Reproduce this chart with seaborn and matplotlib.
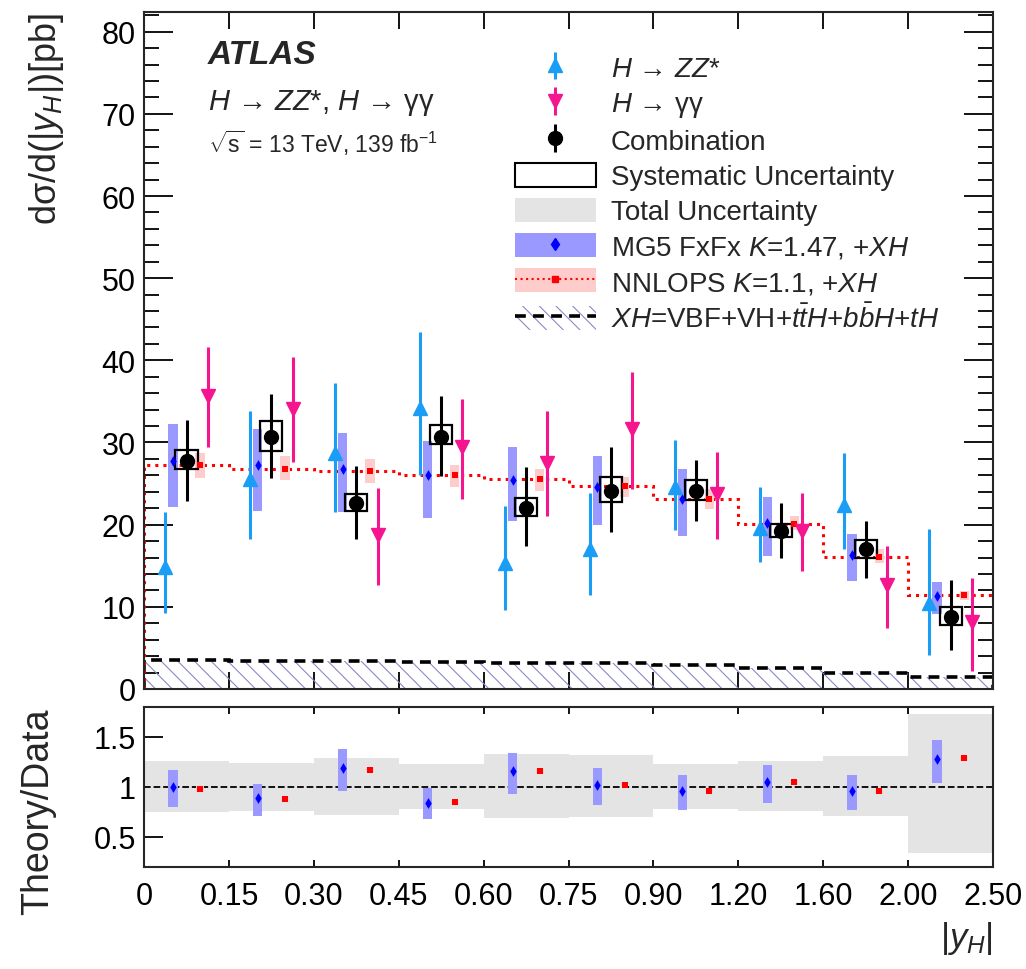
import numpy as np
import pandas as pd
import matplotlib
matplotlib.use("Agg")
import matplotlib.pyplot as plt
import seaborn as sns
from matplotlib.patches import Patch
from matplotlib.lines import Line2D
from matplotlib.ticker import MultipleLocator, FixedLocator

# |y_H| bin edges (drawn with equal visual width)
edge_labels = ["0", "0.15", "0.30", "0.45", "0.60", "0.75", "0.90", "1.20", "1.60", "2.00", "2.50"]

# H -> ZZ*
zz_val = [14.9, 25.5, 28.7, 34.2, 15.3, 17.0, 24.6, 19.6, 22.4, 10.5]
zz_hi = [21.6, 33.8, 37.2, 43.4, 22.3, 23.9, 30.3, 24.6, 28.7, 19.5]
zz_lo = [9.2, 18.3, 21.5, 26.1, 9.6, 11.4, 19.4, 15.4, 17.0, 4.1]

# H -> yy
yy_val = [35.6, 34.1, 18.8, 29.4, 27.5, 31.6, 23.7, 19.2, 12.6, 8.1]
yy_hi = [41.6, 40.4, 24.5, 35.3, 33.8, 38.6, 28.8, 23.8, 17.4, 13.5]
yy_lo = [29.5, 27.6, 12.7, 23.1, 21.1, 24.3, 18.3, 14.3, 7.4, 2.2]

# combination: total and systematic
comb_val = [27.7, 30.7, 22.6, 30.7, 22.0, 24.1, 24.1, 19.2, 17.0, 8.8]
comb_hi = [32.7, 35.9, 27.1, 35.6, 27.0, 29.5, 27.9, 22.6, 20.5, 13.3]
comb_lo = [22.9, 25.7, 18.3, 25.9, 17.4, 19.1, 20.4, 15.9, 13.5, 4.7]
sys_hi = [29.1, 32.6, 23.7, 32.1, 23.3, 25.8, 25.4, 20.1, 18.1, 10.0]
sys_lo = [26.8, 29.0, 21.7, 29.8, 21.1, 22.7, 23.0, 18.5, 15.9, 7.8]

# predictions
mg5_val = [27.7, 27.2, 26.8, 26.0, 25.4, 24.6, 23.1, 20.2, 16.3, 11.3]
mg5_hi = [32.2, 31.6, 31.2, 30.2, 29.5, 28.4, 26.8, 23.4, 18.9, 13.0]
mg5_lo = [22.2, 21.7, 21.6, 20.8, 20.5, 19.9, 18.6, 16.2, 13.1, 9.1]
nnlops_val = [27.2, 26.8, 26.5, 26.0, 25.5, 24.7, 23.1, 20.1, 16.1, 11.4]
nnlops_hi = [28.7, 28.3, 28.0, 27.3, 26.8, 25.8, 24.3, 21.1, 17.0, 11.9]
nnlops_lo = [25.7, 25.4, 25.1, 24.6, 24.1, 23.4, 21.9, 19.4, 15.3, 10.8]
xh_val = [3.5, 3.45, 3.4, 3.3, 3.2, 3.2, 2.9, 2.5, 2.0, 1.4]

# ratio panel
total_ratio_hi = [1.257, 1.24, 1.29, 1.23, 1.327, 1.323, 1.23, 1.257, 1.31, 1.73]
total_ratio_lo = [0.753, 0.763, 0.723, 0.78, 0.693, 0.70, 0.78, 0.76, 0.71, 0.337]
mg5_ratio = [1.0, 0.887, 1.187, 0.843, 1.157, 1.02, 0.96, 1.05, 0.96, 1.28]
mg5_ratio_hi = [1.17, 1.03, 1.38, 0.987, 1.337, 1.187, 1.12, 1.22, 1.12, 1.473]
mg5_ratio_lo = [0.80, 0.71, 0.96, 0.68, 0.93, 0.823, 0.77, 0.843, 0.773, 1.04]
nnlops_ratio = [0.98, 0.877, 1.173, 0.847, 1.157, 1.023, 0.963, 1.05, 0.957, 1.287]
nnlops_ratio_hi = [1.01, 0.90, 1.20, 0.87, 1.18, 1.05, 0.99, 1.07, 0.98, 1.31]
nnlops_ratio_lo = [0.95, 0.85, 1.15, 0.82, 1.13, 1.00, 0.94, 1.03, 0.93, 1.26]

sns.set_theme(style="ticks")
plt.rcParams["font.family"] = ["Liberation Sans", "DejaVu Sans"]
plt.rcParams["mathtext.fontset"] = "custom"
plt.rcParams["mathtext.rm"] = "Liberation Sans"
plt.rcParams["mathtext.it"] = "Liberation Sans:italic"
plt.rcParams["mathtext.bf"] = "Liberation Sans:bold"
plt.rcParams["hatch.linewidth"] = 0.8
plt.rcParams["axes.linewidth"] = 1.5

c_zz = "#1a9ef5"
c_yy = "#f5158f"
c_mg5_band = "#9999ff"
c_nn_band = "#ffcccc"
c_grey = "#e4e4e4"
c_hatch = "#8a8ac8"

edges = np.arange(len(edge_labels))
centers = np.arange(len(comb_val)) + 0.5
df = pd.DataFrame({
    "x": centers, "mg5": mg5_val, "nnlops": nnlops_val,
    "mg5_ratio": mg5_ratio, "nnlops_ratio": nnlops_ratio,
})

fig = plt.figure(figsize=(10.26, 9.70), dpi=100)
ax = fig.add_axes([0.1404, 0.2887, 0.8275, 0.6979])
rax = fig.add_axes([0.1404, 0.1052, 0.8275, 0.1649])

# ---- main panel ----
ax.stairs(xh_val, edges, fill=True, hatch=r"\\", facecolor="none",
          edgecolor=c_hatch, linewidth=0, zorder=1)
ax.stairs(xh_val, edges, color="black", linestyle=(0, (3, 2)), linewidth=2.6, zorder=1.2)
ax.stairs(nnlops_val, edges, color="red", linestyle=":", linewidth=2.2, zorder=1.5)

bw = 0.11
ax.bar(centers - 0.16, np.subtract(mg5_hi, mg5_lo), bottom=mg5_lo, width=bw,
       color=c_mg5_band, linewidth=0, zorder=2)
ax.bar(centers + 0.16, np.subtract(nnlops_hi, nnlops_lo), bottom=nnlops_lo, width=bw,
       color=c_nn_band, linewidth=0, zorder=2)
ax.bar(centers, np.subtract(sys_hi, sys_lo), bottom=sys_lo, width=0.26,
       fill=False, edgecolor="black", linewidth=1.6, zorder=3)

sns.scatterplot(data=df.assign(x=centers - 0.16), x="x", y="mg5", marker="d",
                color="blue", s=30, linewidth=0, ax=ax, zorder=4)
sns.scatterplot(data=df.assign(x=centers + 0.16), x="x", y="nnlops", marker="s",
                color="red", s=22, linewidth=0, ax=ax, zorder=4)

zz_eb = ax.errorbar(centers - 0.25, zz_val,
                    yerr=[np.subtract(zz_val, zz_lo), np.subtract(zz_hi, zz_val)],
                    fmt="^", color=c_zz, ms=10, elinewidth=2.2, capsize=0, zorder=5)
yy_eb = ax.errorbar(centers + 0.25, yy_val,
                    yerr=[np.subtract(yy_val, yy_lo), np.subtract(yy_hi, yy_val)],
                    fmt="v", color=c_yy, ms=10, elinewidth=2.2, capsize=0, zorder=5)
comb_eb = ax.errorbar(centers, comb_val,
                      yerr=[np.subtract(comb_val, comb_lo), np.subtract(comb_hi, comb_val)],
                      fmt="o", color="black", ms=10, elinewidth=2.2, capsize=0, zorder=6)

ax.set_xlim(0, len(comb_val))
ax.set_ylim(0, 82.4)
ax.xaxis.set_major_locator(FixedLocator(edges))
ax.set_xticklabels([])
ax.yaxis.set_major_locator(MultipleLocator(10))
ax.yaxis.set_minor_locator(MultipleLocator(2))
ax.tick_params(axis="both", which="both", direction="in", top=True, right=True,
               width=1.3, labelsize=22, pad=6, colors="black")
ax.tick_params(axis="y", which="major", length=21)
ax.tick_params(axis="y", which="minor", length=11)
ax.tick_params(axis="x", which="major", length=12)
ax.set_xlabel("")
ax.set_ylabel("dσ/d(|$y_{H}$|)[pb]", loc="top", fontsize=26)
ax.yaxis.set_label_coords(-0.092, 1.0)

ax.text(0.075, 0.937, "ATLAS", transform=ax.transAxes, fontsize=24,
        fontweight="bold", fontstyle="italic", va="center")
ax.text(0.075, 0.867, "$H$ → $ZZ$*, $H$ → γγ", transform=ax.transAxes,
        fontsize=21, va="center")
ax.text(0.075, 0.808, r"$\sqrt{\rm s}$ = 13 TeV, 139 fb$^{-1}$", transform=ax.transAxes,
        fontsize=16.5, va="center")

handles = [
    zz_eb, yy_eb, comb_eb,
    Patch(facecolor="white", edgecolor="black", linewidth=1.5),
    Patch(facecolor=c_grey, edgecolor="none"),
    (Patch(facecolor=c_mg5_band, edgecolor="none"),
     Line2D([], [], marker="d", color="blue", linestyle="none", ms=6)),
    (Patch(facecolor=c_nn_band, edgecolor="none"),
     Line2D([], [], marker="s", color="red", linestyle=":", linewidth=1.5, ms=5)),
    (Patch(facecolor="none", edgecolor=c_hatch, linewidth=0, hatch=r"\\"),
     Line2D([], [], color="black", linestyle=(0, (3, 2)), linewidth=2.6)),
]
labels = [
    "$H$ → $ZZ$*",
    "$H$ → γγ",
    "Combination",
    "Systematic Uncertainty",
    "Total Uncertainty",
    "MG5 FxFx $K$=1.47, +$XH$",
    "NNLOPS $K$=1.1, +$XH$",
    r"$XH$=VBF+VH+$t\bar{t}H$+$b\bar{b}H$+$tH$",
]
ax.legend(handles, labels, loc="upper left", bbox_to_anchor=(0.437, 0.937),
          frameon=False, fontsize=20, borderpad=0, borderaxespad=0,
          handlelength=2.9, handleheight=0.95, handletextpad=0.55, labelspacing=0.28)

# ---- ratio panel ----
rax.bar(centers, np.subtract(total_ratio_hi, total_ratio_lo), bottom=total_ratio_lo,
        width=1.0, color=c_grey, linewidth=0, zorder=1)
rax.axhline(1.0, color="black", linestyle="--", linewidth=1.3, zorder=2)
rax.bar(centers - 0.16, np.subtract(mg5_ratio_hi, mg5_ratio_lo), bottom=mg5_ratio_lo,
        width=bw, color=c_mg5_band, linewidth=0, zorder=3)
rax.bar(centers + 0.16, np.subtract(nnlops_ratio_hi, nnlops_ratio_lo), bottom=nnlops_ratio_lo,
        width=0.09, color=c_nn_band, linewidth=0, zorder=3)
sns.scatterplot(data=df.assign(x=centers - 0.16), x="x", y="mg5_ratio", marker="d",
                color="blue", s=30, linewidth=0, ax=rax, zorder=4)
sns.scatterplot(data=df.assign(x=centers + 0.16), x="x", y="nnlops_ratio", marker="s",
                color="red", s=22, linewidth=0, ax=rax, zorder=4)

rax.set_xlim(0, len(comb_val))
rax.set_ylim(0.2, 1.8)
rax.xaxis.set_major_locator(FixedLocator(edges))
rax.set_xticklabels(edge_labels)
rax.yaxis.set_major_locator(FixedLocator([0.5, 1.0, 1.5]))
rax.set_yticklabels(["0.5", "1", "1.5"])
rax.tick_params(axis="both", which="both", direction="in", top=True, right=True,
                width=1.3, labelsize=22, colors="black")
rax.tick_params(axis="y", length=14, pad=6)
rax.tick_params(axis="x", length=5, pad=10)
rax.set_ylabel("Theory/Data", loc="top", fontsize=27)
rax.yaxis.set_label_coords(-0.103, 1.0)
rax.set_xlabel("|$y_{H}$|", loc="right", fontsize=25, labelpad=6)

fig.savefig("out.png", dpi=100)
